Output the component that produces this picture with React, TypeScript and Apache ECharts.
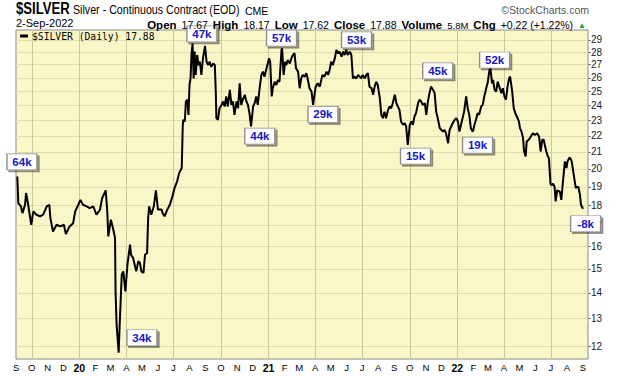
import React, { useEffect, useRef } from 'react';
import * as echarts from 'echarts';

// Daily close samples of $SILVER (date, close)
const dates: string[] = [
  '2019-09-03','2019-09-05','2019-09-10','2019-09-13','2019-09-18','2019-09-20','2019-09-24','2019-09-30',
  '2019-10-04','2019-10-10','2019-10-17','2019-10-23','2019-10-30','2019-11-04','2019-11-06','2019-11-11',
  '2019-11-18','2019-11-25','2019-12-02','2019-12-06','2019-12-13','2019-12-20','2019-12-24','2019-12-30',
  '2020-01-03','2020-01-08','2020-01-15','2020-01-21','2020-01-28','2020-02-03','2020-02-10','2020-02-14',
  '2020-02-21','2020-02-24','2020-02-26','2020-03-02','2020-03-06','2020-03-10','2020-03-11','2020-03-13',
  '2020-03-17','2020-03-19','2020-03-23','2020-03-26','2020-03-30','2020-04-01','2020-04-03','2020-04-08',
  '2020-04-10','2020-04-14','2020-04-17','2020-04-20','2020-04-24','2020-04-27','2020-04-30','2020-05-04',
  '2020-05-07','2020-05-11','2020-05-13','2020-05-15','2020-05-19','2020-05-24','2020-05-28','2020-06-01',
  '2020-06-08','2020-06-10','2020-06-14','2020-06-19','2020-06-24','2020-06-29','2020-07-03','2020-07-08',
  '2020-07-12','2020-07-17','2020-07-19','2020-07-20','2020-07-23','2020-07-25','2020-07-28','2020-07-30',
  '2020-08-01','2020-08-03','2020-08-05','2020-08-07','2020-08-09','2020-08-11','2020-08-13','2020-08-16',
  '2020-08-18','2020-08-21','2020-08-24','2020-08-27','2020-08-31','2020-09-03','2020-09-06','2020-09-09',
  '2020-09-12','2020-09-16','2020-09-19','2020-09-21','2020-09-22','2020-09-25','2020-09-28','2020-10-02',
  '2020-10-05','2020-10-08','2020-10-11','2020-10-14','2020-10-18','2020-10-21','2020-10-24','2020-10-27',
  '2020-10-31','2020-11-03','2020-11-06','2020-11-09','2020-11-12','2020-11-16','2020-11-19','2020-11-22',
  '2020-11-25','2020-11-28','2020-12-02','2020-12-05','2020-12-08','2020-12-11','2020-12-15','2020-12-18',
  '2020-12-21','2020-12-24','2020-12-28','2021-01-02','2021-01-04','2021-01-07','2021-01-09','2021-01-13',
  '2021-01-16','2021-01-19','2021-01-22','2021-01-26','2021-01-27','2021-01-30','2021-02-02','2021-02-04',
  '2021-02-07','2021-02-11','2021-02-14','2021-02-17','2021-02-20','2021-02-23','2021-02-27','2021-03-02',
  '2021-03-05','2021-03-08','2021-03-12','2021-03-15','2021-03-18','2021-03-21','2021-03-25','2021-03-28',
  '2021-04-02','2021-04-06','2021-04-10','2021-04-15','2021-04-19','2021-04-23','2021-04-26','2021-04-29',
  '2021-05-02','2021-05-05','2021-05-09','2021-05-12','2021-05-15','2021-05-18','2021-05-22','2021-05-25',
  '2021-05-28','2021-05-31','2021-06-03','2021-06-07','2021-06-10','2021-06-13','2021-06-16','2021-06-20',
  '2021-06-23','2021-06-26','2021-06-29','2021-07-02','2021-07-06','2021-07-09','2021-07-12','2021-07-15',
  '2021-07-19','2021-07-22','2021-07-25','2021-07-28','2021-07-31','2021-08-04','2021-08-07','2021-08-10',
  '2021-08-13','2021-08-16','2021-08-20','2021-08-23','2021-08-26','2021-08-29','2021-09-02','2021-09-05',
  '2021-09-08','2021-09-11','2021-09-14','2021-09-18','2021-09-21','2021-09-24','2021-09-27','2021-10-01',
  '2021-10-04','2021-10-07','2021-10-10','2021-10-13','2021-10-17','2021-10-20','2021-10-23','2021-10-26',
  '2021-10-30','2021-11-02','2021-11-05','2021-11-08','2021-11-11','2021-11-15','2021-11-18','2021-11-21',
  '2021-11-24','2021-11-28','2021-12-01','2021-12-04','2021-12-07','2021-12-10','2021-12-14','2021-12-17',
  '2021-12-20','2021-12-23','2021-12-27','2021-12-30','2022-01-02','2022-01-05','2022-01-08','2022-01-11',
  '2022-01-14','2022-01-18','2022-01-21','2022-01-24','2022-01-27','2022-01-31','2022-02-03','2022-02-06',
  '2022-02-09','2022-02-12','2022-02-16','2022-02-19','2022-02-22','2022-02-25','2022-03-01','2022-03-04',
  '2022-03-06','2022-03-09','2022-03-11','2022-03-14','2022-03-17','2022-03-20','2022-03-23','2022-03-27',
  '2022-03-30','2022-04-02','2022-04-05','2022-04-08','2022-04-11','2022-04-13','2022-04-17','2022-04-20',
  '2022-04-23','2022-04-26','2022-04-30','2022-05-02','2022-05-05','2022-05-08','2022-05-10','2022-05-13',
  '2022-05-15','2022-05-19','2022-05-23','2022-05-27','2022-05-31','2022-06-04','2022-06-08','2022-06-11',
  '2022-06-14','2022-06-17','2022-06-19','2022-06-22','2022-06-25','2022-06-27','2022-06-30','2022-07-02',
  '2022-07-05','2022-07-08','2022-07-10','2022-07-13','2022-07-15','2022-07-18','2022-07-21','2022-07-23',
  '2022-07-26','2022-07-28','2022-07-31','2022-08-02','2022-08-05','2022-08-07','2022-08-10','2022-08-13',
  '2022-08-15','2022-08-18','2022-08-20','2022-08-23','2022-08-26','2022-08-28','2022-08-31','2022-09-02'
];

const closes: number[] = [
  19.57,18.13,17.96,17.61,18.04,18.66,18.04,17.03,
  17.70,17.53,17.45,17.53,17.96,18.04,17.36,16.70,
  17.03,16.95,17.03,16.58,16.95,17.11,17.70,18.04,
  18.29,18.04,17.96,17.87,17.96,17.53,17.79,18.38,
  18.80,17.70,16.47,17.28,16.87,16.39,14.06,12.78,
  11.78,12.78,14.75,14.89,14.06,14.61,15.18,16.08,
  15.62,15.48,15.18,14.89,15.33,15.26,14.89,14.82,
  15.62,15.70,17.36,17.96,17.53,17.96,18.80,17.79,
  17.79,17.61,17.45,17.79,18.04,18.48,18.92,19.29,
  19.76,20.05,22.71,23.04,22.93,24.29,24.41,23.37,
  25.47,25.96,27.91,28.71,25.96,28.04,26.22,27.77,
  26.97,27.23,26.22,27.50,28.51,27.23,26.97,27.23,
  26.84,27.10,26.97,24.74,23.15,23.04,23.82,24.05,
  24.29,23.94,24.64,23.94,25.11,24.05,24.29,23.37,
  24.29,23.82,25.59,24.05,24.41,24.76,24.29,24.05,
  23.48,22.60,23.94,24.17,24.64,24.05,25.35,26.22,
  26.47,26.09,26.72,27.50,27.23,24.64,25.23,25.71,
  25.47,25.84,25.71,28.18,28.31,26.22,27.23,26.97,
  27.36,27.10,27.50,27.77,27.91,26.72,26.47,25.23,
  25.96,26.22,26.09,26.35,25.84,25.23,24.99,24.05,
  25.35,25.59,25.35,26.22,26.09,26.47,26.22,26.60,
  27.23,26.97,27.50,28.18,27.91,28.04,27.64,28.04,
  27.77,28.18,27.77,28.04,27.77,25.96,26.09,25.96,
  26.22,26.09,25.96,26.22,25.96,26.22,26.35,25.35,
  25.23,24.76,25.35,25.71,25.47,24.52,23.37,23.15,
  23.59,23.15,23.71,23.94,23.82,24.17,24.76,24.17,
  23.94,23.71,22.93,22.71,22.82,22.60,21.43,22.71,
  22.93,22.71,23.26,23.48,24.17,24.41,24.29,24.05,
  24.17,23.37,24.29,24.88,25.35,25.11,24.88,23.59,
  23.15,22.49,22.38,22.27,22.38,22.17,21.54,22.38,
  22.60,22.82,23.04,23.15,22.93,22.27,22.71,23.15,
  23.59,24.64,23.82,23.37,22.49,22.27,22.71,23.04,
  23.48,23.37,23.94,24.05,24.64,25.11,25.71,26.60,
  26.72,25.59,25.84,25.11,24.99,25.71,25.35,24.88,
  25.23,24.64,24.41,25.35,25.96,26.09,24.99,23.82,
  23.48,23.26,22.93,22.49,22.27,21.85,21.03,20.73,
  21.64,21.75,21.96,22.17,22.06,22.17,21.96,21.03,
  21.75,21.75,21.43,21.03,20.73,20.63,19.17,19.08,
  19.17,18.99,18.22,18.81,18.75,18.75,18.30,18.92,
  19.86,20.44,20.05,20.44,20.63,20.67,20.44,19.86,
  19.48,18.92,18.99,18.99,18.57,18.04,17.87,17.88
];

// Volume-change annotation boxes (anchor date, anchor price, text)
const noteDates: string[] = [
  '2019-09-12','2020-05-01','2020-08-25','2020-12-15','2021-01-26','2021-04-16',
  '2021-06-20','2021-10-12','2021-11-24','2022-02-09','2022-03-14','2022-09-06'
];
const notePrices: number[] = [20.41, 12.30, 29.50, 21.98, 29.15, 23.40, 29.0, 20.75, 26.52, 21.42, 27.37, 17.08];
const noteLabels: string[] = ['64k', '34k', '47k', '44k', '57k', '29k', '53k', '15k', '45k', '19k', '52k', '-8k'];

const priceTicks: number[] = [12, 13, 14, 15, 16, 17, 18, 19, 20, 21, 22, 23, 24, 25, 26, 27, 28, 29];
const monthLetters: string[] = ['J', 'F', 'M', 'A', 'M', 'J', 'J', 'A', 'S', 'O', 'N', 'D'];

const toTime = (s: string) => {
  const [y, m, d] = s.split('-').map(Number);
  return new Date(y, m - 1, d).getTime();
};

export default function App() {
  const ref = useRef<HTMLDivElement>(null);
  useEffect(() => {
    if (!ref.current) return;
    const chart = echarts.init(ref.current, null, { renderer: 'svg' });
    const monthStarts: number[] = [];
    for (let i = 0; i <= 36; i++) monthStarts.push(new Date(2019, 8 + i, 1).getTime());
    const quarterStarts = monthStarts.filter((v) => new Date(v).getMonth() % 3 === 0);
    const xMin = new Date(2019, 7, 31, 12).getTime();
    const xMax = new Date(2022, 8, 10, 14).getTime();
    const lnTicks = priceTicks.map((p) => Math.log(p));
    const font = 'Liberation Sans';
    const mono = "'DejaVu Sans Mono', monospace";

    chart.setOption({
      animation: false,
      backgroundColor: '#ffffff',
      graphic: [
        {
          type: 'text', x: 16, y: 9, scaleX: 0.82, z: 10,
          style: { text: '$SILVER', fontSize: 16, fontWeight: 'bold', fontFamily: font, fill: '#000', verticalAlign: 'middle' },
        },
        {
          type: 'text', x: 73, y: 10, scaleX: 0.89, z: 10,
          style: { text: 'Silver - Continuous Contract (EOD)', fontSize: 12, fontFamily: font, fill: '#000', verticalAlign: 'middle' },
        },
        {
          type: 'text', x: 245, y: 11, z: 10,
          style: { text: 'CME', fontSize: 10.5, fontFamily: font, fill: '#000', verticalAlign: 'middle' },
        },
        {
          type: 'text', x: 589, y: 10, z: 10,
          style: { text: '©StockCharts.com', fontSize: 10.5, fontFamily: font, fill: '#555', align: 'right', verticalAlign: 'middle' },
        },
        {
          type: 'text', x: 16, y: 23, z: 10,
          style: { text: '2-Sep-2022', fontSize: 11, fontFamily: font, fill: '#000', verticalAlign: 'middle' },
        },
        {
          type: 'rect', z: 10, shape: { x: 20, y: 34.5, width: 8, height: 3 },
          style: { fill: '#000' },
        },
        {
          type: 'text', x: 32, y: 36, z: 10,
          style: { text: '$SILVER (Daily) 17.88', fontSize: 9.7, fontFamily: mono, fill: '#000', verticalAlign: 'middle' },
        },
      ],
      title: [
        {
          right: 34, top: 16, padding: 0,
          text: '{l|Open} {v|17.67} {l|High} {v|18.17} {l|Low} {v|17.62} {l|Close} {v|17.88} {l|Volume} {s|5.8M} {l|Chg} {v|+0.22 (+1.22%)} {g|▲}',
          textStyle: {
            rich: {
              l: { fontSize: 11.5, fontWeight: 'bold', fontFamily: font, color: '#000' },
              v: { fontSize: 10.5, fontWeight: 'normal', fontFamily: font, color: '#000' },
              s: { fontSize: 9.5, fontWeight: 'normal', fontFamily: font, color: '#000' },
              g: { fontSize: 8, fontWeight: 'normal', fontFamily: font, color: '#1a9a3a' },
            },
          },
        },
      ],
      grid: {
        left: 16, right: 32, top: 30, bottom: 17, show: true,
        backgroundColor: '#f9f7c8', borderColor: '#8a8a8a', borderWidth: 1,
      },
      xAxis: [
        {
          type: 'value', min: xMin, max: xMax,
          axisLine: { show: false },
          axisTick: { show: false, customValues: monthStarts },
          splitLine: { show: false },
          axisLabel: {
            customValues: monthStarts, margin: 3, fontSize: 9.5, color: '#000', fontFamily: font,
            formatter: (v: number) => {
              const dt = new Date(v);
              const m = dt.getMonth();
              if (m === 0) return `{yr|${String(dt.getFullYear()).slice(2)}}`;
              return monthLetters[m];
            },
            rich: { yr: { fontSize: 10.5, fontWeight: 'bold', fontFamily: font, color: '#000' } },
          },
        },
        {
          type: 'value', min: xMin, max: xMax, position: 'bottom',
          axisLine: { show: false },
          axisLabel: { show: false, customValues: quarterStarts },
          axisTick: { show: false, customValues: quarterStarts },
          splitLine: { show: true, lineStyle: { color: '#cbc89a', width: 1 } },
        },
      ],
      yAxis: {
        type: 'value', position: 'right', min: Math.log(11.57), max: Math.log(29.84),
        axisLine: { show: false },
        axisTick: { show: true, length: 3, customValues: lnTicks, lineStyle: { color: '#777' } },
        axisLabel: {
          customValues: lnTicks, margin: 3, fontSize: 10, color: '#222', fontFamily: font,
          formatter: (v: number) => String(Math.round(Math.exp(v))),
        },
        splitLine: { show: true, lineStyle: { color: '#e0ddb0', width: 1 } },
      },
      series: [
        {
          name: '$SILVER', type: 'line', xAxisIndex: 0, showSymbol: false, z: 3,
          data: dates.map((d, i) => [toTime(d), Math.log(closes[i])]),
          lineStyle: { color: '#000', width: 2 }, itemStyle: { color: '#000' },
        },
        {
          name: 'notes', type: 'scatter', xAxisIndex: 0, z: 5, clip: false,
          symbol: 'rect', symbolSize: [30, 16],
          data: noteDates.map((d, i) => [toTime(d), Math.log(notePrices[i])]),
          itemStyle: {
            color: '#ffffff', borderColor: '#8c8c8c', borderWidth: 1, opacity: 1,
            shadowColor: 'rgba(0,0,0,0.45)', shadowOffsetX: 2, shadowOffsetY: 2, shadowBlur: 0,
          },
          label: {
            show: true, position: 'inside', color: '#1717c4', fontWeight: 'bold', fontSize: 11.5, fontFamily: font,
            formatter: (p: any) => noteLabels[p.dataIndex],
          },
        },
      ],
    });
    return () => chart.dispose();
  }, []);
  return <div ref={ref} style={{ position: 'fixed', left: 0, top: 0, width: 620, height: 376 }} />;
}
